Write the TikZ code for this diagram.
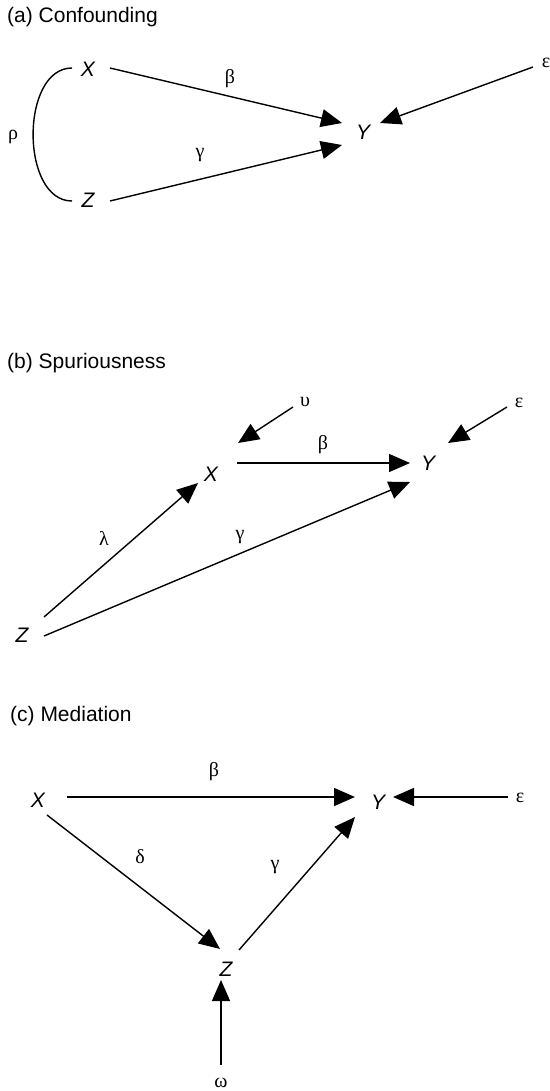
\documentclass[tikz,border=0pt]{standalone}
\usepackage{fontspec}
\setmainfont{Liberation Sans}
\newfontfamily\grk{Liberation Serif}
\usetikzlibrary{arrows.meta}
\tikzset{
  head/.style={anchor=west, inner sep=0pt, font=\fontsize{21}{25}\selectfont},
  var/.style={inner sep=0pt, font=\fontsize{21}{25}\selectfont\itshape},
  gk/.style={inner sep=0pt, font=\fontsize{20}{23}\grk},
  arr/.style={-{Triangle[length=21pt,width=18pt]}, line width=1.4pt},
  link/.style={line width=1.4pt}
}
\begin{document}
\begin{tikzpicture}[x=1pt,y=-1pt]
\fill[white] (0,0) rectangle (549,1091);
\useasboundingbox (0,0) rectangle (549,1091);

% ---------- (a) Confounding ----------
\node[head] (ha) at (7,17) {(a) Confounding};
\node[var] (Xa) at (88,69) {X};
\node[var] (Za) at (88,200) {Z};
\node[var] (Ya) at (363,132) {Y};
\node[gk] (ea) at (546,63) {ε};
\node[gk] (rho) at (13,137) {ρ};
\node[gk] (ba) at (230,79) {β};
\node[gk] (ga) at (200,155) {γ};
\draw[link] ([xshift=-16pt,yshift=1pt]Xa.center) to[out=180,in=180,looseness=1] ([xshift=-16pt,yshift=-1pt]Za.center);
\draw[arr] ([xshift=22pt,yshift=1pt]Xa.center) -- ([xshift=-21pt,yshift=9pt]Ya.center);
\draw[arr] ([xshift=22pt,yshift=-1pt]Za.center) -- ([xshift=-21pt,yshift=-13pt]Ya.center);
\draw[arr] ([xshift=-13pt,yshift=-4pt]ea.center) -- ([xshift=17pt,yshift=9pt]Ya.center);

% ---------- (b) Spuriousness ----------
\node[head] (hb) at (7,363) {(b) Spuriousness};
\node[var] (Xb) at (211,474) {X};
\node[var] (Yb) at (428,463) {Y};
\node[var] (Zb) at (22,635) {Z};
\node[gk] (ub) at (305,402) {υ};
\node[gk] (eb) at (519,403) {ε};
\node[gk] (bb) at (323,445) {β};
\node[gk] (lb) at (104,538) {λ};
\node[gk] (gb) at (240,537) {γ};
\draw[arr] ([xshift=-12pt,yshift=-5pt]ub.center) -- ([xshift=27pt,yshift=31pt]Xb.center);
\draw[arr] ([xshift=-12pt,yshift=-4pt]eb.center) -- ([xshift=20pt,yshift=20pt]Yb.center);
\draw[arr] ([xshift=26pt,yshift=11pt]Xb.center) -- ([xshift=-18pt,yshift=0pt]Yb.center);
\draw[arr] ([xshift=22pt,yshift=18pt]Zb.center) -- ([xshift=-13pt,yshift=-9pt]Xb.center);
\draw[arr] ([xshift=22pt,yshift=-1pt]Zb.center) -- ([xshift=-18pt,yshift=-19pt]Yb.center);

% ---------- (c) Mediation ----------
\node[head] (hc) at (10,716) {(c) Mediation};
\node[var] (Xc) at (38,800) {X};
\node[var] (Yc) at (378,802) {Y};
\node[var] (Zc) at (226,969) {Z};
\node[gk] (ec) at (520,798) {ε};
\node[gk] (wc) at (221,1083) {ω};
\node[gk] (bc) at (214,772) {β};
\node[gk] (dc) at (140,857) {δ};
\node[gk] (gc) at (275,867) {γ};
\draw[arr] ([xshift=29pt,yshift=3pt]Xc.center) -- ([xshift=-23pt,yshift=5pt]Yc.center);
\draw[arr] ([xshift=-12pt,yshift=1pt]ec.center) -- ([xshift=15pt,yshift=5pt]Yc.center);
\draw[arr] ([xshift=9pt,yshift=-15pt]Xc.center) -- ([xshift=-6pt,yshift=20pt]Zc.center);
\draw[arr] ([xshift=13pt,yshift=19pt]Zc.center) -- ([xshift=-23pt,yshift=-15pt]Yc.center);
\draw[arr] ([xshift=0pt,yshift=18pt]wc.center) -- ([xshift=-5pt,yshift=-11pt]Zc.center);
\end{tikzpicture}
\end{document}
